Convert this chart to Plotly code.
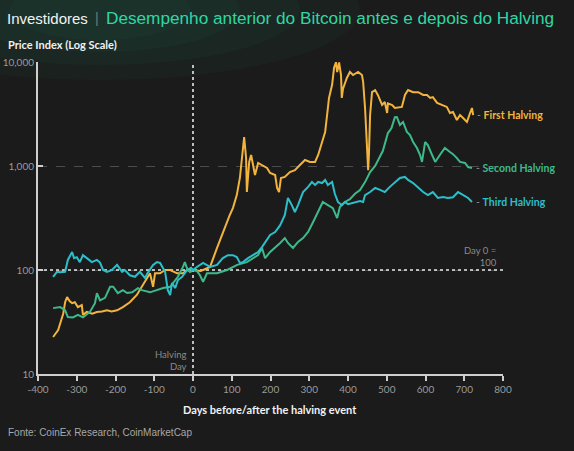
import math
import plotly.graph_objects as go

# ---------------- data ----------------
first_days = [-361, -348, -335, -330, -325, -318, -312, -305, -297, -287, -284, -274, -260, -248, -235, -222, -210, -196,
              -181, -163, -145, -132, -119, -111, -103, -98, -85, -72, -59, -41, -26, -15, -5, 0, 20, 44, 62, 77, 95,
              103, 113, 121, 126, 129, 132, 137, 139, 145, 150, 155, 160, 168, 178, 191, 199, 212, 217, 222, 227, 237,
              250, 263, 276, 289, 302, 315, 323, 333, 341, 346, 351, 359, 364, 369, 372, 377, 382, 384, 387, 397, 405,
              413, 426, 436, 439, 444, 449, 452, 454, 457, 462, 470, 477, 488, 495, 501, 503, 514, 521, 539, 547, 555,
              568, 581, 594, 604, 612, 619, 630, 643, 655, 663, 671, 681, 689, 697, 707, 715, 720, 723]
first_vals = [22.7, 26.5, 38, 49, 55, 50, 48, 49, 44, 46, 37, 39.5, 38, 39.5, 40, 41, 40, 41,
              44, 49, 57.5, 68.6, 84, 93, 69, 93, 93, 100, 100, 93, 93, 100, 97, 100, 98, 107, 163, 232, 338,
              394, 525, 767, 1094, 1365, 1900, 1194, 562, 1094, 1276, 1023, 818, 1070, 1023, 957, 857, 818, 614, 562, 767, 785,
              875, 912, 1023, 1143, 1094, 1094, 1276, 1700, 2125, 3090, 4510, 6030, 8800, 9950, 7990, 9900, 7500, 4510, 5500, 7016, 8020,
              7500, 8020, 7500, 6490, 3610, 1490, 912, 1276, 3090, 5130, 5370, 4820, 3860, 4130, 3230, 4000, 3860, 3610, 3700, 4820, 5370,
              5130, 5130, 4820, 4820, 4510, 4600, 4040, 3860, 3700, 3230, 3300, 2770, 3090, 2890, 2650, 3230, 3610, 3090]

second_days = [-361, -343, -330, -323, -310, -297, -284, -266, -253, -248, -240, -227, -214, -206, -194, -181, -170, -157,
               -142, -132, -111, -93, -77, -59, -39, -26, -21, -16, -8, 0, 10, 18, 26, 36, 62, 88, 114, 139, 155, 168,
               178, 186, 199, 212, 225, 237, 245, 258, 271, 284, 297, 310, 323, 335, 348, 361, 372, 379, 392, 405, 418,
               431, 444, 457, 470, 483, 490, 503, 512, 521, 526, 534, 542, 552, 560, 568, 578, 586, 591, 599, 606, 617,
               625, 637, 650, 663, 671, 681, 689, 702, 710, 720]
second_vals = [43, 44, 41, 35.3, 35, 37, 35, 39.5, 48, 60, 51, 54, 69, 69, 60, 64, 60, 61,
               67, 64, 61, 64, 67, 69, 86, 107, 119, 105, 96, 100, 98, 89, 77, 93, 93, 100, 112, 119, 130, 139,
               163, 130, 149, 163, 182, 203, 182, 163, 186, 203, 232, 289, 361, 451, 421, 394, 316, 404, 451, 480, 540,
               588, 700, 875, 1000, 1276, 1400, 2075, 2300, 2950, 2960, 2480, 2650, 2125, 1980, 1700, 1490, 1276, 1094, 1700, 1590, 1276,
               1094, 1276, 1490, 1365, 1300, 1190, 1094, 1070, 978, 957]

third_days = [-361, -351, -343, -330, -323, -312, -307, -300, -292, -284, -274, -261, -248, -240, -232, -222, -209, -196,
              -183, -176, -163, -150, -137, -124, -116, -103, -93, -85, -72, -65, -59, -54, -46, -39, -28, -15, -5, 0,
              10, 26, 44, 62, 77, 90, 103, 113, 121, 129, 142, 155, 168, 178, 186, 199, 212, 225, 237, 245, 255, 263,
              271, 284, 297, 307, 315, 323, 333, 341, 348, 354, 359, 366, 374, 384, 392, 400, 413, 431, 439, 444, 457,
              470, 483, 495, 508, 521, 534, 547, 555, 568, 581, 594, 606, 619, 632, 645, 658, 671, 684, 697, 710, 720]
third_vals = [86, 96, 95, 96, 125, 149, 130, 133, 119, 139, 130, 119, 125, 118, 100, 96, 100, 112,
              96, 100, 89, 86, 96, 84, 95, 112, 119, 117, 96, 64, 57.5, 75, 67, 80, 86, 100, 105, 100,
              107, 117, 107, 112, 130, 139, 139, 133, 117, 119, 130, 139, 149, 166, 186, 217, 232, 270, 338, 493, 421, 361,
              421, 562, 630, 702, 657, 702, 686, 734, 657, 680, 702, 540, 451, 421, 451, 430, 445, 460, 451, 525, 562,
              615, 590, 562, 630, 702, 767, 785, 734, 686, 615, 562, 525, 562, 493, 502, 493, 500, 562, 525, 493, 451]

series_names = ["First Halving", "Second Halving", "Third Halving"]
series_colors = ["#F2B43E", "#3DBA8B", "#2BBFCB"]

x_ticks = [-400, -300, -200, -100, 0, 100, 200, 300, 400, 500, 600, 700, 800]
y_ticks = [10, 100, 1000, 10000]
y_tick_text = ["10", "100", "1,000", "10,000"]

# ---------------- layout helpers ----------------
W, H = 574, 451
L, R, T, B = 38, 503, 62, 374


def px(xp):
    return (xp - L) / (R - L)


def py(yp):
    return (B - yp) / (B - T)


BG = "#1b1b1b"
fig = go.Figure()

# reference lines (day 0 and index 100)
fig.add_trace(go.Scatter(x=[x_ticks[0], x_ticks[-1]], y=[100, 100], mode="lines",
                         line=dict(color="#e8e8e8", width=1.6, dash="dot"), hoverinfo="skip", showlegend=False))
fig.add_trace(go.Scatter(x=[0, 0], y=[y_ticks[0], y_ticks[-1]], mode="lines",
                         line=dict(color="#e8e8e8", width=1.6, dash="dot"), hoverinfo="skip", showlegend=False))

all_days = [first_days, second_days, third_days]
all_vals = [first_vals, second_vals, third_vals]
for d, v, n, c in zip(all_days, all_vals, series_names, series_colors):
    fig.add_trace(go.Scatter(x=d, y=v, mode="lines", name=n, line=dict(color=c, width=2), showlegend=False))

ann = []
for d, v, n, c in zip(all_days, all_vals, series_names, series_colors):
    ann.append(dict(x=d[-1], y=math.log10(v[-1]), xref="x", yref="y", xanchor="left", yanchor="middle",
                    xshift=2, showarrow=False,
                    text="<span style='color:#8a8a8a'>-</span> <b>" + n + "</b>",
                    font=dict(family="Lato", size=10.5, color=c)))

ann += [
    dict(x=px(5), y=py(18), xref="paper", yref="paper", xanchor="left", yanchor="middle", showarrow=False,
         text="Investidores", font=dict(family="Liberation Sans", size=15, color="#f2f2f2")),
    dict(x=px(97), y=py(18), xref="paper", yref="paper", xanchor="center", yanchor="middle", showarrow=False,
         text="|", font=dict(family="Liberation Sans", size=14, color="#777777")),
    dict(x=px(104), y=py(18), xref="paper", yref="paper", xanchor="left", yanchor="middle", showarrow=False,
         text="Desempenho anterior do Bitcoin antes e depois do Halving",
         font=dict(family="Liberation Sans", size=17.2, color="#30D6A4")),
    dict(x=px(6), y=py(45), xref="paper", yref="paper", xanchor="left", yanchor="middle", showarrow=False,
         text="<b>Price Index (Log Scale)</b>", font=dict(family="Lato", size=11, color="#f2f2f2")),
    dict(x=px(270), y=py(409), xref="paper", yref="paper", xanchor="center", yanchor="middle", showarrow=False,
         text="<b>Days before/after the halving event</b>", font=dict(family="Lato", size=11, color="#f2f2f2")),
    dict(x=px(6), y=py(432), xref="paper", yref="paper", xanchor="left", yanchor="middle", showarrow=False,
         text="Fonte: CoinEx Research, CoinMarketCap", font=dict(family="Liberation Sans", size=10, color="#a8a8a8")),
    dict(x=px(189), y=py(360), xref="paper", yref="paper", xanchor="right", yanchor="middle", showarrow=False,
         align="right", text="Halving<br>Day", font=dict(family="Lato", size=9.5, color="#8a8a8a")),
    dict(x=px(499), y=py(256), xref="paper", yref="paper", xanchor="right", yanchor="middle", showarrow=False,
         align="right", text="Day 0 =<br>100", font=dict(family="Lato", size=9.5, color="#8a8a8a")),
]

# subtle teal glow at the top-left of the header
shapes = []
for rx, ry, op in [(260, 70, 0.05), (200, 55, 0.05), (140, 42, 0.05), (90, 30, 0.05)]:
    shapes.append(dict(type="circle", xref="paper", yref="paper", layer="below", line=dict(width=0),
                       fillcolor="rgba(40,150,120,%s)" % op,
                       x0=px(100 - rx), x1=px(100 + rx), y0=py(10 + ry), y1=py(10 - ry)))

fig.update_layout(
    width=W, height=H,
    margin=dict(l=L, r=W - R, t=T, b=H - B, pad=0, autoexpand=False),
    paper_bgcolor=BG, plot_bgcolor=BG,
    showlegend=False,
    annotations=ann,
    shapes=shapes,
    xaxis=dict(range=[-400, 800], tickvals=x_ticks, ticktext=[str(t) for t in x_ticks], automargin=False,
               showgrid=False, zeroline=False, showline=True, linecolor="#cfcfcf", linewidth=2,
               ticks="outside", ticklen=5, tickwidth=1.5, tickcolor="#cfcfcf",
               tickfont=dict(family="Lato", size=10, color="#9a9a9a")),
    yaxis=dict(type="log", range=[1, 4], tickvals=y_ticks, ticktext=y_tick_text, automargin=False,
               showgrid=True, gridcolor="#4c4c4c", griddash="dash", gridwidth=1, zeroline=False,
               showline=True, linecolor="#cfcfcf", linewidth=2,
               ticks="inside", ticklen=5, tickwidth=1.5, tickcolor="#cfcfcf",
               tickfont=dict(family="Lato", size=10, color="#9a9a9a")),
)

fig.write_html("out.html", config={"displayModeBar": False},
               post_script="document.body.style.margin='0';document.body.style.padding='0';"
                           "document.body.style.background='%s';document.body.style.overflow='hidden';" % BG)
